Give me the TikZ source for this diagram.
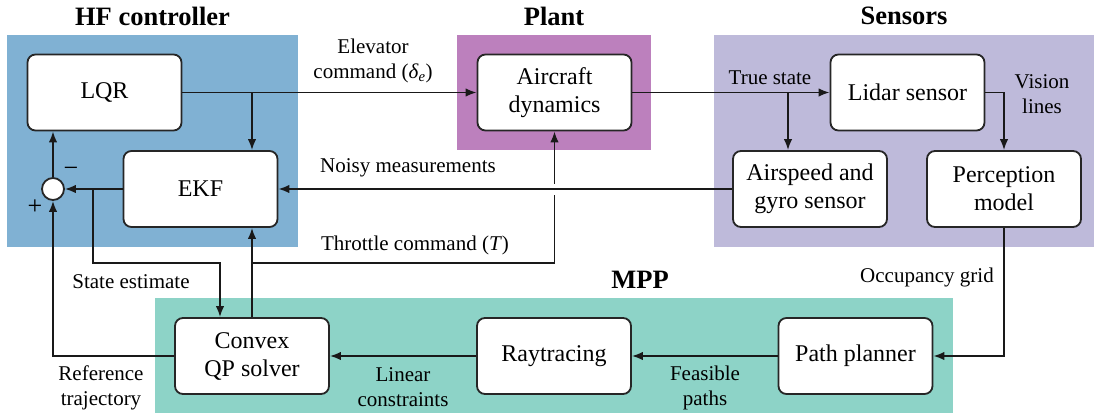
\documentclass[tikz,border=0pt]{standalone}
\usepackage{fontspec}
\setmainfont{Liberation Serif}
\newfontfamily\tms{Liberation Serif}
\usetikzlibrary{arrows.meta}
\definecolor{hfblue}{HTML}{80B1D3}
\definecolor{plantpurple}{HTML}{BC80BD}
\definecolor{senslav}{HTML}{BEBADA}
\definecolor{mppteal}{HTML}{8DD3C7}
\begin{document}
\begin{tikzpicture}[x=1pt,y=-1pt,
 blk/.style={draw=black!85, fill=white, line width=1.8pt, rounded corners=8pt,
   minimum width=154pt, minimum height=76pt, align=center,
   font=\tms\fontsize{24}{28}\selectfont, inner sep=0pt},
 lbl/.style={align=center, font=\tms\fontsize{21}{25}\selectfont, inner sep=0pt},
 ttl/.style={font=\tms\fontsize{26.5}{30}\selectfont\bfseries, inner sep=0pt},
 con/.style={line width=1.8pt, draw=black!90},
 arr/.style={con, -{Latex[length=11pt,width=8.5pt]}},
]
\useasboundingbox (0,0) rectangle (1096,418);
% regions
\fill[hfblue] (7,35) rectangle (298,247);
\fill[plantpurple] (457,35) rectangle (651,150);
\fill[senslav] (714,35) rectangle (1094,247);
\fill[mppteal] (155,298) rectangle (953,413);
% titles
\node[ttl] (t1) at (152.5,16) {HF controller};
\node[ttl] (t2) at (554,16) {Plant};
\node[ttl] (t3) at (904,16) {Sensors};
\node[ttl] (t4) at (640,280) {MPP};
% blocks
\node[blk] (lqr) at (104.5,92.5) {LQR};
\node[blk] (ekf) at (200.5,189) {EKF};
\node[blk] (air) at (554.5,92.5) {Aircraft\\dynamics};
\node[blk] (lid) at (907.5,92.5) {Lidar sensor};
\node[blk] (asp) at (810,189) {Airspeed and\\gyro sensor};
\node[blk] (per) at (1004,189) {Perception\\model};
\node[blk] (qp) at (252,356) {Convex\\QP solver};
\node[blk] (ray) at (554,356) {Raytracing};
\node[blk] (pp) at (855.5,356) {Path planner};
\node[circle, draw=black!85, fill=white, line width=1.8pt, minimum size=22pt, inner sep=0pt] (sum) at (53,189) {};
% coordinates
\coordinate (b1) at (252,92.5);
\coordinate (tj) at (252,263);
\coordinate (ts) at (788,92.5);
\coordinate (se) at (93,189);
\coordinate (se1) at (93,263);
\coordinate (se2) at (220,263);
% connectors
\draw[arr] (lqr.east) -- (air.west);
\draw[arr] (b1) -- (b1 |- ekf.north);
\draw[arr] (air.east) -- (lid.west);
\draw[arr] (ts) -- (ts |- asp.north);
\draw[arr] (lid.east) -- (lid.east -| per.north) -- (per.north);
\draw[arr] (per.south) -- (per.south |- pp.east) -- (pp.east);
\draw[arr] (pp.west) -- (ray.east);
\draw[arr] (ray.west) -- (qp.east);
\draw[arr] (qp.west) -- (qp.west -| sum.south) -- (sum.south);
\draw[arr] (ekf.west) -- (sum.east);
\draw[arr] (sum.north) -- (sum.north |- lqr.south);
\draw[arr] (se) -- (se1) -- (se2) -- (se2 |- qp.north);
\draw[arr] (qp.north) -- (tj) -- (tj -| air.south) -- (air.south);
\draw[arr] (tj) -- (tj |- ekf.south);
\fill[white] (548,183.5) rectangle (561,194.5);
\draw[arr] (asp.west) -- (ekf.east);
% labels
\node[lbl] (l1) at (373,60.5) {Elevator\\command (\textit{δ}\textsubscript{\textit{e}})};
\node[lbl] (l2) at (408,168) {Noisy measurements};
\node[lbl] (l3) at (415,245) {Throttle command (\textit{T})};
\node[lbl] (l4) at (131,282) {State estimate};
\node[lbl] (l5) at (101,387.5) {Reference\\trajectory};
\node[lbl] (l6) at (403,387.5) {Linear\\constraints};
\node[lbl] (l7) at (705,387.5) {Feasible\\paths};
\node[lbl] (l8) at (927,277) {Occupancy grid};
\node[lbl] (l9) at (770,78) {True state};
\node[lbl] (l10) at (1042,94.5) {Vision\\lines};
\node[lbl, font=\tms\fontsize{26}{28}\selectfont] (pl) at (35,207) {+};
\node[lbl, font=\tms\fontsize{26}{28}\selectfont] (mi) at (71,172) {−};
\end{tikzpicture}
\end{document}
